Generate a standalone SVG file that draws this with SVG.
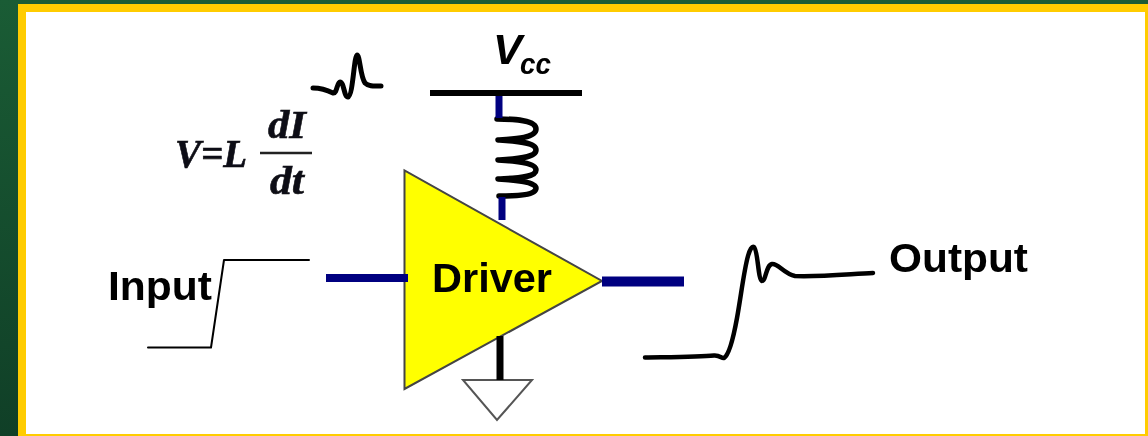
<svg xmlns="http://www.w3.org/2000/svg" width="1148" height="436" viewBox="0 0 1148 436">
<defs>
<style>
.sans{font-family:"Liberation Sans",Arial,sans-serif;font-weight:bold;fill:#000}
.serif{font-family:"Liberation Serif","Times New Roman",serif;font-weight:bold;font-style:italic;fill:#0a0a14;stroke:#0a0a14;stroke-width:.6}
.blue{stroke:#000080;fill:none}
.blk{stroke:#000;fill:none;stroke-linejoin:round;stroke-linecap:round}
g{filter:url(#soft)}
</style>
<filter id="soft" filterUnits="userSpaceOnUse" x="0" y="0" width="1148" height="436"><feGaussianBlur stdDeviation="0.5"/></filter>
<linearGradient id="bg" x1="0" y1="0" x2="0" y2="1"><stop offset="0" stop-color="#1a5c35"/><stop offset="1" stop-color="#103f27"/></linearGradient>
</defs>
<rect width="1148" height="436" fill="url(#bg)"/>
<rect x="18" y="4" width="1130" height="432" fill="#ffcc00"/>
<rect x="26" y="12" width="1119" height="422" fill="#fff"/>
<g id="vcc">
<path class="blk" stroke-width="6" d="M430 93H582" style="stroke-linecap:butt"/>
<text class="sans" x="493" y="64" font-size="43" font-style="italic" textLength="29" lengthAdjust="spacingAndGlyphs">V</text>
<text class="sans" x="520" y="74" font-size="29" font-style="italic" textLength="31" lengthAdjust="spacingAndGlyphs">cc</text>
</g>
<g id="inductor">
<path class="blk" stroke-width="5.500" d="M497 119C515 119 536 120 536 129C536 138 515 139 498 140C515 141 536 142 536 150C536 158 515 159 498 160C515 161 536 163 536 170C536 178 515 178 498 179C515 180 536 182 536 188C536 195 518 196 499 196"/>
</g>
<g id="driver">
<polygon points="404.500,170.500 404.500,389 602,281" fill="#ffff00" stroke="#444" stroke-width="2"/>
<text class="sans" x="432" y="291.500" font-size="40" textLength="120" lengthAdjust="spacingAndGlyphs">Driver</text>
</g>
<g id="ground">
<polygon points="463,380 532,380 497,420" fill="#fff" stroke="#555" stroke-width="2"/>
</g>
<g id="input">
<text class="sans" x="108" y="300" font-size="41" textLength="104" lengthAdjust="spacingAndGlyphs">Input</text>
<path class="blk" stroke-width="2" d="M148 347.500H211L224 260H309"/>
</g>
<g id="output">
<text class="sans" x="889" y="272" font-size="41" textLength="139" lengthAdjust="spacingAndGlyphs">Output</text>
<path class="blk" stroke-width="4.500" d="M645 357.500C680 357 700 357 714 355.500C720 355 722 359 724 358C729 355 733 340 737 318C741 296 744 270 748 256C750 249 752 246 754 247C758 250 758 280 762 281C766 281 766 265 772 264C778 263 784 274 795 276C820 277 850 274 873 273"/>
</g>
<g id="spike">
<path class="blk" stroke-width="5" d="M313 88C320 88 327 90 333 93C337 94 337 82 340 82C344 82 344 97 348 97C353 96 354 56 357 55C360 55 360 76 365 83C369 87 375 86 381 86"/>
</g>
<g id="formula">
<text class="serif" x="175" y="167" font-size="41" textLength="72" lengthAdjust="spacingAndGlyphs">V=L</text>
<text class="serif" x="268" y="138" font-size="41" textLength="38" lengthAdjust="spacingAndGlyphs">dI</text>
<path d="M260 153H312" stroke="#222" stroke-width="2.500"/>
<text class="serif" x="270" y="194" font-size="41" textLength="34" lengthAdjust="spacingAndGlyphs">dt</text>
</g>
<g id="connectors">
<path class="blue" stroke-width="7" d="M499 96V118"/>
<path class="blue" stroke-width="7" d="M502 197V220"/>
<path class="blue" stroke-width="8" d="M326 278H408"/>
<path class="blue" stroke-width="10" d="M602 281.500H684"/>
<path class="blk" stroke-width="7" d="M500 336V380" style="stroke-linecap:butt"/>
</g>
</svg>
